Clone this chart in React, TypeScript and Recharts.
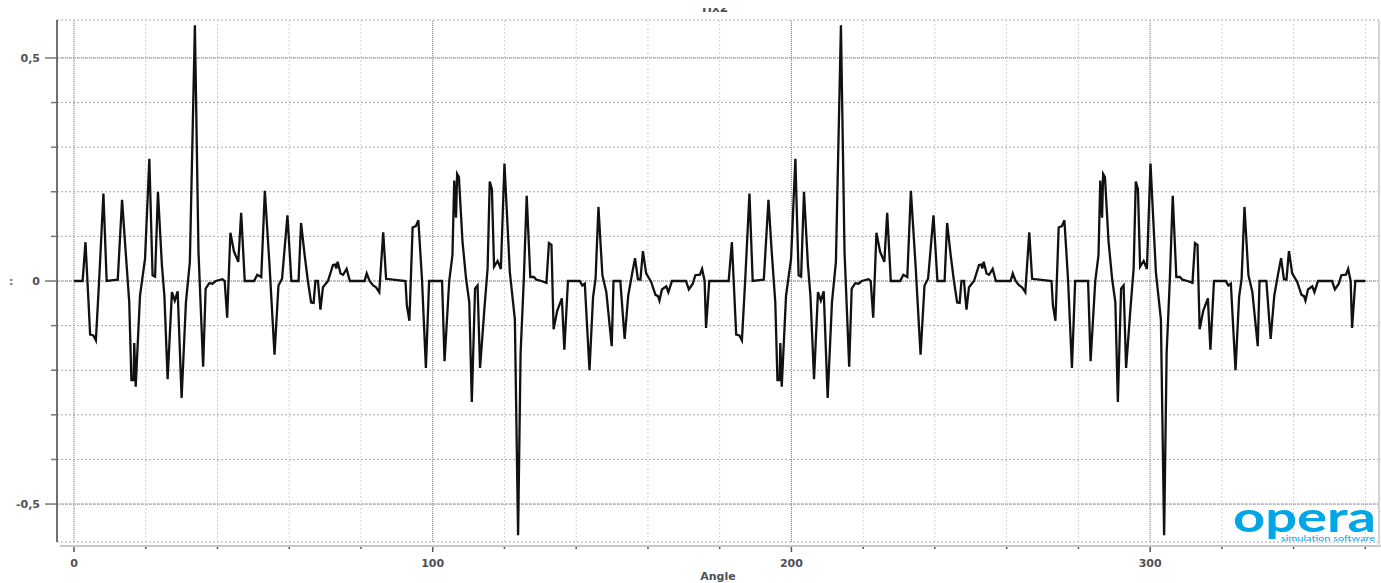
import React from 'react';
import { CartesianGrid, Line, LineChart, ReferenceLine, XAxis, YAxis } from 'recharts';

// [angle, value] vertices, 0..180
const firstHalf: [number, number][] = [
  [0, 0], [2.4, 0], [3.2, 0.087], [4.5, -0.12], [5.4, -0.122], [6.1, -0.133], [7, 0], [8.2, 0.196],
  [9.1, 0], [11, 0.002], [12.2, 0.003], [13.4, 0.182], [14.4, 0.066], [15.4, -0.048], [16, -0.222],
  [16.6, -0.222], [16.8, -0.139], [17.2, -0.237], [18.4, -0.033], [19.8, 0.05], [21, 0.274],
  [21.9, 0.013], [22.6, 0.01], [23.4, 0.2], [24.5, 0.036], [25.2, -0.033], [26.1, -0.22],
  [27.3, -0.025], [28.1, -0.044], [28.9, -0.023], [30, -0.262], [31.2, -0.048], [32.3, 0.043],
  [33.7, 0.573], [34.7, 0.066], [36, -0.192], [36.7, -0.017], [37.7, -0.005], [38.6, -0.006],
  [39.5, 0], [41.4, 0.004], [42, 0], [42.7, -0.082], [43.6, 0.108], [44.6, 0.066], [45.8, 0.043],
  [46.6, 0.153], [47.6, 0], [50.2, 0], [51.1, 0.014], [52.2, 0.009], [53.2, 0.202], [54.5, 0.036],
  [55.9, -0.165], [57, -0.01], [58, 0.005], [59.5, 0.147], [60.6, 0], [62.6, 0], [63.3, 0.13],
  [64.3, 0.058], [65.2, 0], [66.1, -0.048], [66.8, -0.049], [67.3, 0], [68, 0], [68.7, -0.064],
  [69.4, -0.014], [70.8, 0], [72.2, 0.036], [72.8, 0.037], [73.1, 0.028], [73.5, 0.043],
  [74.3, 0.017], [75, 0.014], [76, 0.027], [76.9, 0], [81, 0], [81.6, 0.017], [82.4, 0],
  [83.4, -0.01], [84.2, -0.014], [85.1, -0.025], [86.2, 0.109], [87, 0.005], [92.4, 0],
  [92.8, -0.055], [93.5, -0.089], [94.4, 0.12], [95.3, 0.123], [96, 0.136], [97, 0.005],
  [98.1, -0.195], [99, 0], [102.6, 0], [103.3, -0.18], [104.6, 0], [105.5, 0.058], [106, 0.225],
  [106.5, 0.142], [106.8, 0.24], [107.3, 0.233], [108.3, 0.089], [109.3, 0.005], [110.2, -0.048],
  [110.9, -0.271], [111.8, -0.017], [112.5, -0.01], [113.2, -0.195], [114.4, -0.063], [115.3, 0.028],
  [115.9, 0.223], [116.5, 0.206], [117.1, 0.032], [118.1, 0.045], [119, 0.027], [120, 0.263],
  [121.5, 0.02], [122.9, -0.086], [123.8, -0.57], [124.5, -0.161], [125.4, 0.005], [126.2, 0.191],
  [127.2, 0.009], [128.2, 0.009], [128.9, 0.003], [130.3, 0], [131.7, -0.004], [132.4, 0.085],
  [133.1, 0.081], [133.7, -0.108], [134.7, -0.067], [136, -0.039], [136.7, -0.154], [137.7, 0],
  [141, 0], [141.7, -0.01], [142.4, -0.006], [143.7, -0.2], [144.7, -0.036], [145.4, 0.005],
  [146.2, 0.166], [147.3, 0.013], [148.4, -0.025], [149.9, -0.146], [150.4, 0], [152.3, 0],
  [153.5, -0.13], [154.5, -0.033], [155.6, 0.017], [156.4, 0.051], [157.2, 0.004], [157.9, 0.003],
  [158.6, 0.067], [159.5, 0.017], [160.9, -0.002], [162.1, -0.031], [162.8, -0.034], [163.2, -0.044],
  [163.9, -0.019], [165.1, -0.012], [165.7, -0.025], [166.7, 0], [170.6, 0], [171.4, -0.019],
  [172.5, -0.006], [173.2, 0.013], [174.5, 0.014], [175.1, 0.027], [175.8, 0], [176.2, -0.105],
  [177.1, 0], [180, 0],
];

// 180..360, the pattern repeats
const secondHalf: [number, number][] = [
  [182.5, 0], [183.4, 0.087], [184.6, -0.12], [185.5, -0.122], [186.2, -0.133], [187.1, 0], [188.3, 0.196],
  [189.2, 0], [191.1, 0.002], [192.3, 0.003], [193.6, 0.182], [194.5, 0.066], [195.5, -0.048], [196.1, -0.222],
  [196.7, -0.222], [196.9, -0.139], [197.3, -0.237], [198.5, -0.033], [199.9, 0.05], [201.1, 0.274],
  [202, 0.013], [202.7, 0.01], [203.5, 0.2], [204.6, 0.036], [205.3, -0.033], [206.3, -0.22],
  [207.4, -0.025], [208.2, -0.044], [209, -0.023], [210.1, -0.262], [211.3, -0.048], [212.4, 0.043],
  [213.8, 0.573], [214.8, 0.066], [216.1, -0.192], [216.8, -0.017], [217.8, -0.005], [218.7, -0.006],
  [219.6, 0], [221.5, 0.004], [222.1, 0], [222.8, -0.082], [223.7, 0.108], [224.7, 0.066], [225.9, 0.043],
  [226.7, 0.153], [227.7, 0], [230.3, 0], [231.2, 0.014], [232.3, 0.009], [233.3, 0.202], [234.6, 0.036],
  [236, -0.165], [237.1, -0.01], [238.1, 0.005], [239.6, 0.147], [240.7, 0], [242.7, 0], [243.4, 0.13],
  [244.4, 0.058], [245.3, 0], [246.2, -0.048], [246.9, -0.049], [247.4, 0], [248.1, 0], [248.8, -0.064],
  [249.5, -0.014], [250.9, 0], [252.3, 0.036], [252.9, 0.037], [253.2, 0.028], [253.6, 0.043],
  [254.4, 0.017], [255.1, 0.014], [256.1, 0.027], [257, 0], [261.1, 0], [261.7, 0.017], [262.5, 0],
  [263.5, -0.01], [264.3, -0.014], [265.2, -0.025], [266.3, 0.109], [267.1, 0.005], [272.5, 0],
  [272.9, -0.055], [273.6, -0.089], [274.5, 0.12], [275.4, 0.123], [276.1, 0.136], [277.1, 0.005],
  [278.2, -0.195], [279.1, 0], [282.7, 0], [283.4, -0.18], [284.7, 0], [285.6, 0.058], [286.1, 0.225],
  [286.6, 0.142], [286.9, 0.24], [287.4, 0.233], [288.4, 0.089], [289.4, 0.005], [290.3, -0.048],
  [291, -0.271], [291.9, -0.017], [292.6, -0.01], [293.3, -0.195], [294.5, -0.063], [295.4, 0.028],
  [296, 0.223], [296.6, 0.206], [297.2, 0.032], [298.2, 0.045], [299.1, 0.027], [300.1, 0.263],
  [301.6, 0.02], [303, -0.086], [303.9, -0.57], [304.6, -0.161], [305.5, 0.005], [306.3, 0.191],
  [307.3, 0.009], [308.3, 0.009], [309, 0.003], [310.4, 0], [311.8, -0.004], [312.5, 0.085],
  [313.2, 0.081], [313.8, -0.108], [314.8, -0.067], [316.1, -0.039], [316.8, -0.154], [317.8, 0],
  [321.1, 0], [321.8, -0.01], [322.5, -0.006], [323.8, -0.2], [324.8, -0.036], [325.5, 0.005],
  [326.3, 0.166], [327.4, 0.013], [328.5, -0.025], [330, -0.146], [330.5, 0], [332.4, 0],
  [333.6, -0.13], [334.6, -0.033], [335.7, 0.017], [336.5, 0.051], [337.3, 0.004], [338, 0.003],
  [338.7, 0.067], [339.6, 0.017], [341, -0.002], [342.2, -0.031], [342.9, -0.034], [343.3, -0.044],
  [344, -0.019], [345.2, -0.012], [345.8, -0.025], [346.8, 0], [350.7, 0], [351.5, -0.019],
  [352.6, -0.006], [353.3, 0.013], [354.6, 0.014], [355.2, 0.027], [355.9, 0], [356.3, -0.105],
  [357.2, 0], [360, 0],
];

const xTicks = [0, 20, 40, 60, 80, 100, 120, 140, 160, 180, 200, 220, 240, 260, 280, 300, 320, 340, 360];
const xLabels = [0, 100, 200, 300];
const yTicks = [-0.5, -0.4, -0.3, -0.2, -0.1, 0, 0.1, 0.2, 0.3, 0.4, 0.5];
const yLabels = [-0.5, 0, 0.5];

const data = [...firstHalf, ...secondHalf].map(([angle, value]) => ({ angle, value }));

const labelStyle = { fill: '#505058', fontSize: 11, fontWeight: 'bold' as const, fontFamily: '"DejaVu Sans", sans-serif' };

const isLabelX = (v: number) => xLabels.includes(v);
const isLabelY = (v: number) => yLabels.some((l) => Math.abs(l - v) < 1e-9);

function XTick(props: any) {
  const { x, y, payload } = props;
  const major = isLabelX(payload.value);
  return (
    <g>
      <line x1={x} x2={x} y1={y + 4} y2={y + (major ? 10 : 7)} stroke="#555" strokeWidth={1.5} />
      {major && (
        <text x={x} y={y + 25} textAnchor="middle" {...labelStyle}>
          {payload.value}
        </text>
      )}
    </g>
  );
}

function YTick(props: any) {
  const { x, y, payload } = props;
  const major = isLabelY(payload.value);
  return (
    <g>
      <line x1={x} x2={x - (major ? 12 : 6)} y1={y} y2={y} stroke="#777" strokeWidth={1.5} />
      {major && (
        <text x={x - 17} y={y + 4} textAnchor="end" {...labelStyle}>
          {String(payload.value).replace('.', ',')}
        </text>
      )}
    </g>
  );
}

export default function App() {
  return (
    <div style={{ position: 'absolute', left: 0, top: 0, width: 1381, height: 583, background: '#fff', overflow: 'hidden' }}>
      <LineChart width={1381} height={583} data={data} margin={{ top: 20, right: 2, bottom: 0, left: 0 }}>
        <CartesianGrid vertical={false} stroke="#a8a8a8" strokeDasharray="2 2" />
        <CartesianGrid horizontal={false} stroke="#d2d2d2" strokeDasharray="2 2" />
        <XAxis
          type="number"
          dataKey="angle"
          domain={[-4.74, 363.8]}
          ticks={xTicks}
          interval={0}
          height={41}
          axisLine={false}
          tickLine={false}
          tickSize={0}
          tickMargin={0}
          tick={<XTick />}
          label={{ value: 'Angle', position: 'insideBottom', offset: 3, ...labelStyle }}
        />
        <YAxis
          type="number"
          domain={[-0.585, 0.585]}
          ticks={yTicks}
          interval={0}
          width={57}
          axisLine={{ stroke: '#444', strokeWidth: 1.5 }}
          tickLine={false}
          tickSize={0}
          tickMargin={0}
          tick={<YTick />}
        />
        {xLabels.map((v) => (
          <ReferenceLine key={`x${v}`} x={v} stroke="#8a8a8a" strokeDasharray="1 1" />
        ))}
        {yLabels.map((v) => (
          <ReferenceLine key={`y${v}`} y={v} stroke="#8a8a8a" strokeDasharray="1 1" />
        ))}
        <Line type="linear" dataKey="value" stroke="#111" strokeWidth={2.3} dot={false} isAnimationActive={false} />
      </LineChart>
      {/* x axis baseline sits a few px under the plot, right frame edge */}
      <div style={{ position: 'absolute', left: 60, top: 545, width: 1321, height: 2, background: '#c8c8c8' }} />
      <div style={{ position: 'absolute', left: 1378, top: 20, width: 2, height: 526, background: '#d4d4d4' }} />
      {/* title and y-axis caption are cut off in the original screenshot */}
      <div style={{ position: 'absolute', left: 690, top: 8, width: 60, height: 6, overflow: 'hidden' }}>
        <div style={{ position: 'absolute', left: 12, top: -7, font: 'bold 12px "DejaVu Sans", sans-serif', color: '#505058', whiteSpace: 'nowrap' }}>
          Hx2
        </div>
      </div>
      <div style={{ position: 'absolute', left: 9, top: 275, font: 'bold 11px "DejaVu Sans", sans-serif', color: '#707080' }}>:</div>
      <svg style={{ position: 'absolute', left: 0, top: 0 }} width={1381} height={583}>
        <text x={1233} y={532} fill="#00a6e6" fontSize={42} fontWeight="bold" fontFamily="Lato, sans-serif" textLength={143} lengthAdjust="spacingAndGlyphs">
          opera
        </text>
        <text x={1281} y={541} fill="#00a6e6" fontSize={7.5} fontFamily="Lato, sans-serif" textLength={94} lengthAdjust="spacingAndGlyphs">
          simulation software
        </text>
      </svg>
    </div>
  );
}
